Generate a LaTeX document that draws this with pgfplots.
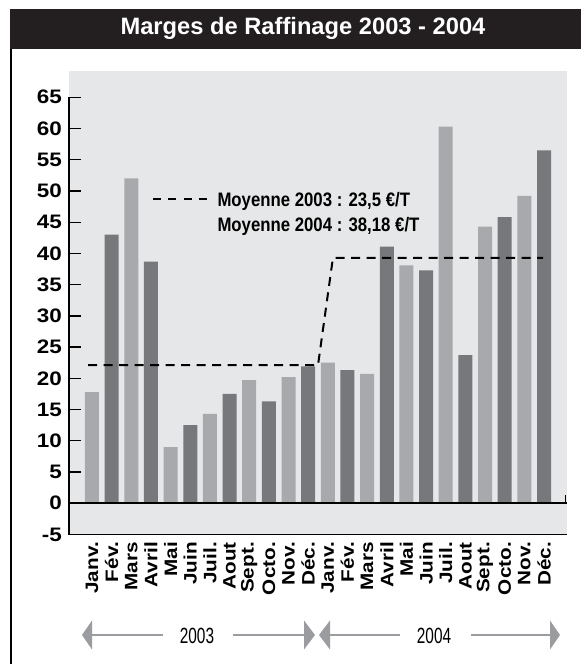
\documentclass[border=0pt]{standalone}
\usepackage{pgfplots}
\pgfplotsset{compat=1.18}
\usepackage{fontspec}
\setmainfont{Liberation Sans}
\newfontfamily\tickfont{Liberation Sans}[FakeStretch=1.15]
\newfontfamily\condfont{Liberation Sans}[FakeStretch=0.86]
\newfontfamily\yearfont{Liberation Sans}[FakeStretch=0.7]
\definecolor{barlight}{HTML}{A7A9AC}
\definecolor{bardark}{HTML}{77787B}
\definecolor{bgc}{HTML}{E6E7E8}
\definecolor{arrowgrey}{HTML}{9B9C9F}
\definecolor{titlebg}{HTML}{231F20}
\begin{document}
\begin{tikzpicture}
\useasboundingbox (0bp,0bp) rectangle (586bp,664bp);
\fill[white] (0bp,0bp) rectangle (586bp,664bp);
\fill[titlebg] (10bp,615bp) rectangle (581bp,655bp);
\node[anchor=base, text=white, inner sep=0pt, font={\bfseries\fontsize{23.7bp}{26bp}\selectfont}] at (303bp,629bp) {Marges de Raffinage 2003 - 2004};
\draw[line width=1.3bp] (11bp,0bp) -- (11bp,615bp);

\begin{axis}[
  at={(69bp,129.5bp)}, anchor=south west, scale only axis,
  width=498bp, height=463.5bp,
  xmin=-1.17, xmax=24.17, ymin=-5, ymax=69.2,
  axis line style={draw=none},
  axis background/.style={fill=bgc},
  ytick={-5,0,5,10,15,20,25,30,35,40,45,50,55,60,65},
  yticklabels={-5,0,5,10,15,20,25,30,35,40,45,50,55,60,65},
  ytick pos=left, tick align=inside,
  major tick length=12bp,
  ytick style={black, line width=1.3bp},
  yticklabel style={anchor=east, inner sep=0pt, font={\tickfont\bfseries\fontsize{19.5bp}{20bp}\selectfont}},
  yticklabel shift=7bp,
  xtick={0,...,23},
  xtick style={draw=none},
  xticklabels={Janv.,Fév.,Mars,Avril,Mai,Juin,Juil.,Aout,Sept.,Octo.,Nov.,Déc.,Janv.,Fév.,Mars,Avril,Mai,Juin,Juil.,Aout,Sept.,Octo.,Nov.,Déc.},
  xticklabel style={rotate=90, anchor=east, inner sep=0pt, font={\tickfont\bfseries\fontsize{18bp}{20bp}\selectfont}},
  xticklabel shift=7.5bp,
  clip=false,
]
\addplot[ybar, bar width=14bp, bar shift=0pt, fill=barlight, draw=none] coordinates {
 (0,17.8) (2,52.0) (4,9.0) (6,14.3) (8,19.7) (10,20.2)
 (12,22.5) (14,20.7) (16,38.1) (18,60.3) (20,44.3) (22,49.2)};
\addplot[ybar, bar width=14bp, bar shift=0pt, fill=bardark, draw=none] coordinates {
 (1,43.0) (3,38.7) (5,12.5) (7,17.5) (9,16.3) (11,21.9)
 (13,21.3) (15,41.1) (17,37.3) (19,23.7) (21,45.8) (23,56.5)};
\addplot[black, line width=2bp, dash pattern=on 9bp off 6.5bp] coordinates {
 (-0.2,22.1) (11.5,22.1) (12.26,39.3) (22.95,39.3)};
\draw[line width=1.3bp] (axis cs:-1.17,-5) -- (axis cs:-1.17,65);
\draw[line width=1.6bp] (axis cs:-1.17,0) -- (axis cs:24.17,0);
\draw[line width=1bp] (axis cs:-1.17,-5) -- (axis cs:24.17,-5);
\draw[line width=1.5bp] (axis cs:24.1,0) -- (axis cs:24.1,1.3);
\end{axis}

% legend
\draw[black, line width=2bp, dash pattern=on 8bp off 7.3bp] (153bp,465bp) -- (207bp,465bp);
\node[anchor=base west, inner sep=0pt, font={\condfont\bfseries\fontsize{19.5bp}{20bp}\selectfont}] at (217.3bp,457bp) {Moyenne 2003 : 23,5 €/T};
\node[anchor=base west, inner sep=0pt, font={\condfont\bfseries\fontsize{19.5bp}{20bp}\selectfont}] at (217.3bp,432bp) {Moyenne 2004 : 38,18 €/T};

% year arrows
\draw[arrowgrey, line width=2.5bp] (91bp,29bp) -- (163bp,29bp);
\draw[arrowgrey, line width=2.5bp] (233bp,29bp) -- (305bp,29bp);
\draw[arrowgrey, line width=2.5bp] (329bp,29bp) -- (400bp,29bp);
\draw[arrowgrey, line width=2.5bp] (471bp,29bp) -- (551bp,29bp);
\fill[arrowgrey] (82bp,29bp) -- (92bp,43.5bp) -- (92bp,14.5bp) -- cycle;
\fill[arrowgrey] (315bp,29bp) -- (304bp,43.5bp) -- (304bp,14.5bp) -- cycle;
\fill[arrowgrey] (319bp,29bp) -- (330bp,43.5bp) -- (330bp,14.5bp) -- cycle;
\fill[arrowgrey] (560bp,29bp) -- (550bp,43.5bp) -- (550bp,14.5bp) -- cycle;
\node[anchor=base, inner sep=0pt, font={\yearfont\fontsize{22bp}{24bp}\selectfont}] at (197bp,21bp) {2003};
\node[anchor=base, inner sep=0pt, font={\yearfont\fontsize{22bp}{24bp}\selectfont}] at (434bp,21bp) {2004};
\end{tikzpicture}
\end{document}
